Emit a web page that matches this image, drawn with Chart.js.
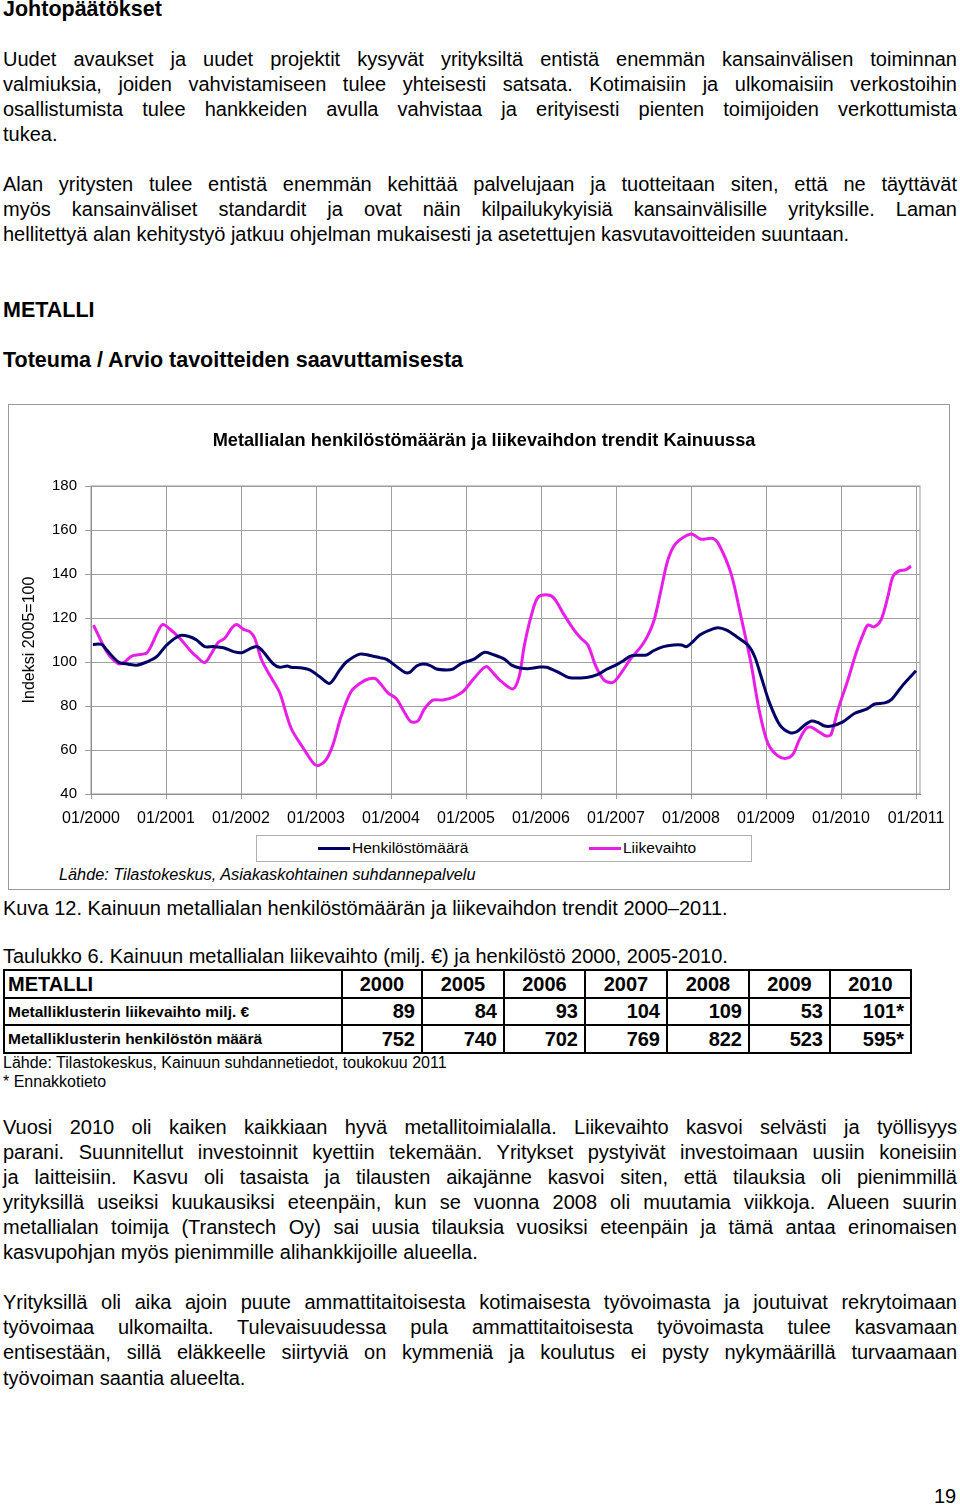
<!DOCTYPE html>
<html lang="fi">
<head>
<meta charset="UTF-8">
<title>Johtopäätökset – METALLI</title>
<script src="https://cdn.jsdelivr.net/npm/chart.js"></script>
<style>
    body {
        margin: 0;
        background: #fff;
        font-family: "Liberation Sans", Arial, sans-serif;
        color: #000;
    }
    .page {
        position: relative;
        width: 960px;
        height: 1509px;
        overflow: hidden;
    }
    .ln {
        position: absolute;
        left: 3px;
        width: 954px;
        font-size: 20px;
        line-height: 25px;
        white-space: nowrap;
    }
    .j {
        text-align: justify;
        text-align-last: justify;
    }
    .h {
        font-weight: bold;
        font-size: 21.5px;
    }
    #chart-box {
        position: absolute;
        left: 8px;
        top: 404px;
        width: 940px;
        height: 484px;
        border: 1px solid #9a9a9a;
    }
    #chart-box canvas {
        position: absolute;
        left: 0;
        top: 0;
    }
    #chart-title {
        position: absolute;
        left: 0;
        width: 950px;
        top: 24px;
        text-align: center;
        font-size: 18.2px;
        font-weight: bold;
        line-height: 22px;
        white-space: nowrap;
    }
    #legend {
        position: absolute;
        left: 247px;
        top: 430px;
        width: 494px;
        height: 25px;
        border: 1px solid #b0b0b0;
        font-size: 15.5px;
    }
    #legend .item {
        position: absolute;
        top: 3px;
        line-height: 18px;
    }
    #legend .sw {
        display: inline-block;
        width: 32px;
        height: 3px;
        vertical-align: middle;
        margin-right: 2px;
    }
    #source {
        position: absolute;
        left: 50px;
        top: 460px;
        font-size: 16.3px;
        font-style: italic;
    }
    table {
        position: absolute;
        left: 3px;
        top: 969px;
        border-collapse: collapse;
        table-layout: fixed;
        width: 907px;
    }
    td {
        border: 2px solid #000;
        padding: 0 6px;
        font-weight: bold;
        font-size: 20px;
        text-align: right;
        white-space: nowrap;
        overflow: hidden;
    }
    td.first { text-align: left; font-size: 15.5px; padding-left: 3px; }
    td.head { text-align: center; }
    .small {
        position: absolute;
        left: 3px;
        font-size: 16px;
        line-height: 19px;
    }
</style>
</head>
<body>
<div class="page">
    <div class="ln h" style="top:-3px">Johtopäätökset</div>

    <div class="ln j" style="top:47px">Uudet avaukset ja uudet projektit kysyvät yrityksiltä entistä enemmän kansainvälisen toiminnan</div>
    <div class="ln j" style="top:72px">valmiuksia, joiden vahvistamiseen tulee yhteisesti satsata. Kotimaisiin ja ulkomaisiin verkostoihin</div>
    <div class="ln j" style="top:97px">osallistumista tulee hankkeiden avulla vahvistaa ja erityisesti pienten toimijoiden verkottumista</div>
    <div class="ln" style="top:122px">tukea.</div>

    <div class="ln j" style="top:172px">Alan yritysten tulee entistä enemmän kehittää palvelujaan ja tuotteitaan siten, että ne täyttävät</div>
    <div class="ln j" style="top:197px">myös kansainväliset standardit ja ovat näin kilpailukykyisiä kansainvälisille yrityksille. Laman</div>
    <div class="ln" style="top:222px">hellitettyä alan kehitystyö jatkuu ohjelman mukaisesti ja asetettujen kasvutavoitteiden suuntaan.</div>

    <div class="ln h" style="top:298px">METALLI</div>
    <div class="ln h" style="top:348px">Toteuma / Arvio tavoitteiden saavuttamisesta</div>

    <div id="chart-box">
        <canvas id="trendChart" width="940" height="425"></canvas>
        <div id="chart-title">Metallialan henkilöstömäärän ja liikevaihdon trendit Kainuussa</div>
        <div id="legend">
            <div class="item" style="left:61px"><span class="sw" style="background:#000066"></span>Henkilöstömäärä</div>
            <div class="item" style="left:332px"><span class="sw" style="background:#e81ee8"></span>Liikevaihto</div>
        </div>
        <div id="source">Lähde: Tilastokeskus, Asiakaskohtainen suhdannepalvelu</div>
    </div>

    <div class="ln" style="top:896px">Kuva 12. Kainuun metallialan henkilöstömäärän ja liikevaihdon trendit 2000–2011.</div>
    <div class="ln" style="top:944px">Taulukko 6. Kainuun metallialan liikevaihto (milj. €) ja henkilöstö 2000, 2005-2010.</div>

    <table>
        <colgroup>
            <col style="width:338px"><col style="width:80px"><col style="width:82px"><col style="width:81px">
            <col style="width:82px"><col style="width:82px"><col style="width:81px"><col style="width:81px">
        </colgroup>
        <tr style="height:28px">
            <td class="first" style="font-size:20px">METALLI</td>
            <td class="head">2000</td><td class="head">2005</td><td class="head">2006</td><td class="head">2007</td>
            <td class="head">2008</td><td class="head">2009</td><td class="head">2010</td>
        </tr>
        <tr style="height:27px">
            <td class="first">Metalliklusterin liikevaihto milj. €</td>
            <td>89</td><td>84</td><td>93</td><td>104</td><td>109</td><td>53</td><td>101*</td>
        </tr>
        <tr style="height:28px">
            <td class="first">Metalliklusterin henkilöstön määrä</td>
            <td>752</td><td>740</td><td>702</td><td>769</td><td>822</td><td>523</td><td>595*</td>
        </tr>
    </table>
    <div class="small" style="top:1053px">Lähde: Tilastokeskus, Kainuun suhdannetiedot, toukokuu 2011</div>
    <div class="small" style="top:1072px">* Ennakkotieto</div>

    <div class="ln j" style="top:1115px">Vuosi 2010 oli kaiken kaikkiaan hyvä metallitoimialalla. Liikevaihto kasvoi selvästi ja työllisyys</div>
    <div class="ln j" style="top:1140px">parani. Suunnitellut investoinnit kyettiin tekemään. Yritykset pystyivät investoimaan uusiin koneisiin</div>
    <div class="ln j" style="top:1165px">ja laitteisiin. Kasvu oli tasaista ja tilausten aikajänne kasvoi siten, että tilauksia oli pienimmillä</div>
    <div class="ln j" style="top:1190px">yrityksillä useiksi kuukausiksi eteenpäin, kun se vuonna 2008 oli muutamia viikkoja. Alueen suurin</div>
    <div class="ln j" style="top:1215px">metallialan toimija (Transtech Oy) sai uusia tilauksia vuosiksi eteenpäin ja tämä antaa erinomaisen</div>
    <div class="ln" style="top:1240px">kasvupohjan myös pienimmille alihankkijoille alueella.</div>

    <div class="ln j" style="top:1290px">Yrityksillä oli aika ajoin puute ammattitaitoisesta kotimaisesta työvoimasta ja joutuivat rekrytoimaan</div>
    <div class="ln j" style="top:1315px">työvoimaa ulkomailta. Tulevaisuudessa pula ammattitaitoisesta työvoimasta tulee kasvamaan</div>
    <div class="ln j" style="top:1340px">entisestään, sillä eläkkeelle siirtyviä on kymmeniä ja koulutus ei pysty nykymäärillä turvaamaan</div>
    <div class="ln" style="top:1366px">työvoiman saantia alueelta.</div>

    <div class="ln" style="top:1484px; left:934px; width:auto">19</div>
</div>

<script>
    // kuukausia tammikuusta 2000 (0 = 01/2000, 132 = 01/2011)
    const xTickMonths = [0, 12, 24, 36, 48, 60, 72, 84, 96, 108, 120, 132];
    const xTickLabels = ['01/2000', '01/2001', '01/2002', '01/2003', '01/2004', '01/2005',
                         '01/2006', '01/2007', '01/2008', '01/2009', '01/2010', '01/2011'];

    // Henkilöstömäärä, indeksi 2005=100
    const henkMonths = [0.3, 1.7, 2.5, 4.4, 6, 7.3, 8.9, 10.5, 12.1, 14.2,
        15.8, 16.9, 18.2, 19.6, 21.2, 22.8, 24.1, 25.4, 26.5, 27.3,
        29.2, 30.2, 31.4, 32, 33.4, 35, 36.6, 38.2, 39.8, 40.9,
        43, 44.6, 46.2, 47.3, 48.9, 50.2, 51, 52.1, 53.1, 54.2,
        55.3, 56.9, 57.9, 59.3, 61.2, 63, 64.5, 66.2, 67.3, 68.6,
        70.2, 71.8, 72.9, 74.8, 76.4, 79.3, 80.9, 82.5, 84.1, 85.2,
        86.5, 88.9, 90, 91.6, 93.2, 94.5, 95.3, 96.4, 97.4, 99,
        100.3, 101.7, 103.3, 105.1, 106.2, 107.3, 108.6, 110.2, 111.8, 112.9,
        114.2, 115.3, 116.3, 117.4, 118.5, 120.3, 122.2, 124.1, 125.4, 127,
        128.1, 129.9, 132];
    const henkIndex = [108, 108, 105.5, 100, 99, 98.5, 100, 102.4, 107.7, 112,
        111.5, 110, 107, 107, 106.5, 104.7, 104.2, 106, 107, 105.5,
        99, 97.6, 98.2, 97.6, 97.4, 96.4, 93.3, 90.3, 96.4, 100.1,
        103.6, 103, 102, 101.2, 97.9, 95.3, 95.3, 98.2, 99.1, 98.5,
        96.8, 96.4, 96.8, 99.4, 101.2, 104.4, 103.2, 101.2, 98.6, 97.3,
        97, 97.7, 97.6, 95.3, 93, 93, 94.1, 96.7, 98.8, 100.6,
        102.9, 103.2, 105.1, 107, 107.7, 107.7, 107, 109.5, 112.3, 114.5,
        115.6, 114.5, 111.5, 107.7, 102.4, 92.6, 81.2, 71.4, 67.9, 68.3,
        71.4, 73.2, 72.5, 70.9, 70.9, 72.8, 76.7, 78.6, 80.9, 81.4,
        83, 89.5, 96];

    // Liikevaihto, indeksi 2005=100
    const liikMonths = [0.4, 1.4, 2.5, 3.6, 4.5, 5.4, 6.5, 8.1, 8.9, 9.7,
        10.8, 11.5, 12.6, 14.2, 15.8, 16.9, 18.2, 19.3, 20.3, 21.4,
        22.5, 23.3, 24.4, 25.4, 26.2, 27.3, 28.9, 30.2, 32, 34,
        35.7, 36.5, 37.6, 38.7, 40, 41.6, 43.2, 44.5, 45.6, 47.5,
        48.8, 50.1, 51.2, 52.3, 53.3, 54.7, 56.3, 58.1, 59.5, 61.3,
        63.2, 64.5, 65.5, 67.5, 68.5, 69.3, 70.4, 71.5, 73.1, 74.1,
        75.7, 77.3, 78.4, 79.5, 80.8, 82.1, 83.5, 84.8, 86.4, 88,
        89, 90.1, 91.2, 92.3, 93.6, 96, 97.6, 99.5, 100.5, 102.4,
        104, 105.6, 106.9, 108.3, 109.9, 111.2, 112.3, 113.3, 114.4, 115.2,
        116.5, 117.6, 118.4, 119.5, 121.1, 122.4, 123.5, 124.3, 125.3, 126.4,
        127.5, 128.3, 129.3, 130.4, 131.2];
    const liikIndex = [116.8, 110.8, 104.7, 100.9, 99.1, 100, 102.7, 103.5, 104, 107.7,
        114.5, 117, 115, 110.8, 105.5, 102.4, 99.7, 104, 108.8, 110.8,
        115.3, 117, 114.8, 113.8, 110.8, 100.9, 92.6, 86, 70, 60.7,
        53.6, 53, 55.5, 62.3, 75.1, 86.5, 90.6, 92.4, 92.3, 86,
        83.5, 77.4, 72.8, 73.2, 78.5, 82.7, 82.7, 84.2, 86.5, 92.6,
        97.9, 94.5, 91.5, 87.7, 93.3, 107, 120.6, 129.3, 130.5, 129,
        121.4, 114.5, 110.8, 107.7, 97.9, 91.8, 90.7, 94.9, 101.7, 107,
        111.5, 119.1, 132.7, 146.4, 154, 158.2, 155.8, 156.2, 153.2, 140.3,
        120.6, 99.4, 78.2, 63, 57.3, 56.2, 58, 64.5, 69.8, 70.4,
        68.2, 66.4, 67, 78.2, 91.8, 104, 112.3, 116.8, 116, 119.1,
        129.7, 138.8, 141.4, 142, 143.6];

    const toPoints = (xs, ys) => xs.map((m, i) => ({ x: m, y: ys[i] }));

    Chart.defaults.font.family = "'Liberation Sans', Arial, sans-serif";
    Chart.defaults.color = '#000';

    // harmaa kehys piirtoalueen ympärille
    const plotFrame = {
        id: 'plotFrame',
        beforeDatasetsDraw(chart) {
            const a = chart.chartArea;
            const ctx = chart.ctx;
            ctx.save();
            ctx.strokeStyle = '#9a9a9a';
            ctx.lineWidth = 1;
            ctx.strokeRect(a.left, a.top, a.right - a.left, a.bottom - a.top);
            ctx.restore();
        }
    };

    new Chart(document.getElementById('trendChart'), {
        type: 'line',
        data: {
            datasets: [
                {
                    label: 'Henkilöstömäärä',
                    data: toPoints(henkMonths, henkIndex),
                    borderColor: '#000066',
                    borderWidth: 3,
                    pointRadius: 0,
                    tension: 0.3,
                },
                {
                    label: 'Liikevaihto',
                    data: toPoints(liikMonths, liikIndex),
                    borderColor: '#e81ee8',
                    borderWidth: 3,
                    pointRadius: 0,
                    tension: 0.3,
                },
            ],
        },
        options: {
            responsive: false,
            devicePixelRatio: 1,
            animation: false,
            layout: { padding: { left: 0, right: 29, top: 81, bottom: 4 } },
            plugins: {
                legend: { display: false },
                tooltip: { enabled: false },
                title: { display: false },
            },
            scales: {
                x: {
                    type: 'linear',
                    min: 0,
                    max: 132.64,
                    afterBuildTicks: scale => {
                        scale.ticks = xTickMonths.map(v => ({ value: v }));
                    },
                    afterFit: scale => {
                        scale.height = 32;
                        // reunatilat hoidetaan layout-paddingilla
                        scale.paddingLeft = 0;
                        scale.paddingRight = 0;
                    },
                    ticks: {
                        autoSkip: false,
                        maxRotation: 0,
                        padding: 10,
                        font: { size: 16 },
                        callback: (value, index) => xTickLabels[index],
                    },
                    grid: { color: '#a0a0a0', tickLength: 5 },
                    border: { color: '#808080', width: 1 },
                },
                y: {
                    min: 40,
                    max: 180,
                    afterFit: scale => { scale.width = 82; },
                    ticks: { stepSize: 20, padding: 8, font: { size: 15 } },
                    grid: { color: '#a0a0a0', tickLength: 6 },
                    border: { color: '#808080', width: 1 },
                    title: {
                        display: true,
                        text: 'Indeksi 2005=100',
                        font: { size: 16 },
                        padding: { top: 11, bottom: 0 },
                    },
                },
            },
        },
        plugins: [plotFrame],
    });
</script>
</body>
</html>
